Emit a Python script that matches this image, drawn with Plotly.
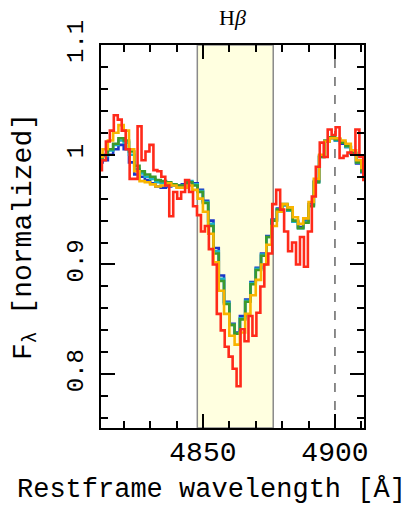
import plotly.graph_objects as go

# wavelength grids (Angstrom)
wave = [4811, 4813, 4815, 4817, 4819, 4821, 4823, 4825, 4827, 4829,
        4831, 4833, 4835, 4837, 4839, 4841, 4843, 4845, 4847, 4849,
        4851, 4853, 4855, 4857, 4859, 4861, 4863, 4865, 4867, 4869,
        4871, 4873, 4875, 4877, 4879, 4881, 4883, 4885, 4887, 4889,
        4891, 4893, 4895, 4897, 4899, 4901, 4903, 4905, 4907, 4909, 4911]

flux_blue = [0.993, 0.995, 1.000, 1.005, 1.009, 1.005, 0.993, 0.982, 0.980, 0.977,
             0.974, 0.971, 0.970, 0.971, 0.972, 0.972, 0.973, 0.975, 0.974, 0.968,
             0.958, 0.940, 0.915, 0.890, 0.866, 0.846, 0.838, 0.853, 0.868, 0.884,
             0.897, 0.910, 0.926, 0.941, 0.951, 0.954, 0.949, 0.939, 0.934, 0.940,
             0.955, 0.976, 0.999, 1.012, 1.015, 1.013, 1.010, 1.007, 1.001, 0.992, 0.984]

flux_cyan = [0.996, 0.999, 1.004, 1.009, 1.013, 1.011, 1.000, 0.987, 0.983, 0.980,
             0.978, 0.975, 0.974, 0.973, 0.972, 0.971, 0.972, 0.976, 0.973, 0.967,
             0.957, 0.937, 0.912, 0.887, 0.865, 0.845, 0.837, 0.851, 0.867, 0.883,
             0.896, 0.909, 0.925, 0.940, 0.950, 0.954, 0.949, 0.939, 0.933, 0.939,
             0.954, 0.975, 0.998, 1.012, 1.016, 1.013, 1.011, 1.007, 1.001, 0.993, 0.985]

flux_green = [0.997, 1.000, 1.005, 1.010, 1.015, 1.013, 1.003, 0.990, 0.985, 0.982,
              0.980, 0.977, 0.976, 0.975, 0.973, 0.972, 0.972, 0.975, 0.972, 0.966,
              0.956, 0.935, 0.910, 0.885, 0.864, 0.845, 0.837, 0.850, 0.866, 0.882,
              0.895, 0.908, 0.925, 0.940, 0.950, 0.955, 0.950, 0.940, 0.933, 0.938,
              0.953, 0.975, 0.998, 1.013, 1.016, 1.014, 1.011, 1.008, 1.002, 0.993, 0.985]

flux_orange = [0.998, 1.005, 1.013, 1.020, 1.027, 1.022, 1.005, 0.985, 0.976, 0.975,
               0.973, 0.971, 0.972, 0.974, 0.972, 0.970, 0.970, 0.972, 0.968, 0.960,
               0.948, 0.928, 0.902, 0.876, 0.855, 0.835, 0.827, 0.838, 0.855, 0.872,
               0.886, 0.900, 0.918, 0.935, 0.948, 0.955, 0.952, 0.943, 0.937, 0.942,
               0.957, 0.978, 1.000, 1.012, 1.015, 1.015, 1.013, 1.010, 1.004, 0.995, 0.988]

wave_red = [4811.0, 4812.5, 4814.0, 4815.5, 4817.0, 4818.5, 4820.0, 4821.5, 4823.0, 4824.5,
            4826.0, 4827.5, 4829.0, 4830.5, 4832.0, 4833.5, 4835.0, 4836.5, 4838.0, 4839.5,
            4841.0, 4842.5, 4844.0, 4845.5, 4847.0, 4848.5, 4850.0, 4851.5, 4853.0, 4854.5,
            4856.0, 4857.5, 4859.0, 4860.5, 4862.0, 4863.5, 4865.0, 4866.5, 4868.0, 4869.5,
            4871.0, 4872.5, 4874.0, 4875.5, 4877.0, 4878.5, 4880.0, 4881.5, 4883.0, 4884.5,
            4886.0, 4887.5, 4889.0, 4890.5, 4892.0, 4893.5, 4895.0, 4896.5, 4898.0, 4899.5,
            4901.0, 4902.5, 4904.0, 4905.5, 4907.0, 4908.5, 4910.0, 4911.5]

flux_red = [0.986, 0.995, 1.012, 1.022, 1.036, 1.032, 1.022, 1.005, 0.978, 0.978,
            1.026, 0.995, 1.003, 1.009, 0.986, 0.985, 0.980, 0.972, 0.944, 0.966,
            0.960, 0.966, 0.977, 0.966, 0.953, 0.945, 0.930, 0.935, 0.914, 0.900,
            0.855, 0.840, 0.825, 0.816, 0.805, 0.789, 0.841, 0.830, 0.853, 0.835,
            0.856, 0.880, 0.900, 0.910, 0.955, 0.968, 0.950, 0.930, 0.912, 0.920,
            0.900, 0.925, 0.898, 0.930, 0.962, 0.989, 1.011, 0.998, 1.023, 1.018,
            1.025, 0.997, 0.999, 1.002, 1.000, 1.023, 0.998, 0.977]

band = [4847.875, 4876.625]
dashed_line = 4900
x_range = [4811.4, 4911.0]
y_range = [0.751, 1.1]
y_tickvals = [0.8, 0.9, 1.0, 1.1]
y_ticktext = ["0.8", "0.9", "1", "1.1"]

series = [
    (wave, flux_blue, "#1b36c8"),
    (wave, flux_cyan, "#1ab3c6"),
    (wave, flux_green, "#3c9a2c"),
    (wave, flux_orange, "#f8b400"),
    (wave_red, flux_red, "#ff2a1a"),
]

fig = go.Figure()
for xs, ys, col in series:
    fig.add_trace(go.Scatter(x=xs, y=ys, mode="lines", line_shape="hvh",
                             line=dict(color=col, width=2.6), showlegend=False,
                             hoverinfo="skip"))

fig.add_shape(type="rect", xref="x", yref="paper", x0=band[0], x1=band[1], y0=0, y1=1,
              fillcolor="#ffffe0", line=dict(color="#8a8a8a", width=1.5), layer="below")
fig.add_shape(type="line", xref="x", yref="paper", x0=dashed_line, x1=dashed_line, y0=0, y1=1,
              line=dict(color="#666666", width=1.5, dash="dash"), layer="below")

mono = "Liberation Mono"

# x-axis title placed as annotation (the reference centres it left of the plot centre)
fig.add_annotation(text="Restframe wavelength [Å]", xref="paper", yref="paper",
                   x=(211 - 101) / 263, y=-(490 - 428) / 383, xanchor="center", yanchor="middle",
                   showarrow=False, font=dict(family=mono, size=27, color="black"))

fig.update_layout(
    width=411, height=509,
    margin=dict(l=101, r=47, t=45, b=81),
    paper_bgcolor="white", plot_bgcolor="white",
    title=dict(text="H<i>β</i>", x=0.5, xref="paper", xanchor="center",
               y=1 - 17 / 509, yanchor="middle",
               font=dict(family="Liberation Serif", size=22, color="black")),
    xaxis=dict(range=x_range, showgrid=False, zeroline=False,
               showline=True, linecolor="black", linewidth=2, mirror="allticks",
               ticks="inside", ticklen=14, tickwidth=1.5, tickcolor="black",
               tick0=4850, dtick=50,
               minor=dict(ticks="inside", dtick=10, tick0=4850, ticklen=7,
                          tickwidth=1.5, tickcolor="black", showgrid=False),
               tickfont=dict(family=mono, size=28, color="black"),
               ticklabelstandoff=-3),
    yaxis=dict(range=y_range, showgrid=False, zeroline=False,
               showline=True, linecolor="black", linewidth=2, mirror="allticks",
               ticks="inside", ticklen=14, tickwidth=1.5, tickcolor="black",
               tickvals=y_tickvals, ticktext=y_ticktext, tickangle=-90,
               minor=dict(ticks="inside", dtick=0.02, tick0=0.8, ticklen=7,
                          tickwidth=1.5, tickcolor="black", showgrid=False),
               tickfont=dict(family=mono, size=24, color="black"),
               ticklabelstandoff=6,
               title=dict(text="F<sub>λ</sub> [normalized]", standoff=24,
                          font=dict(family=mono, size=28, color="black"))),
)

fig.write_html("out.html")
